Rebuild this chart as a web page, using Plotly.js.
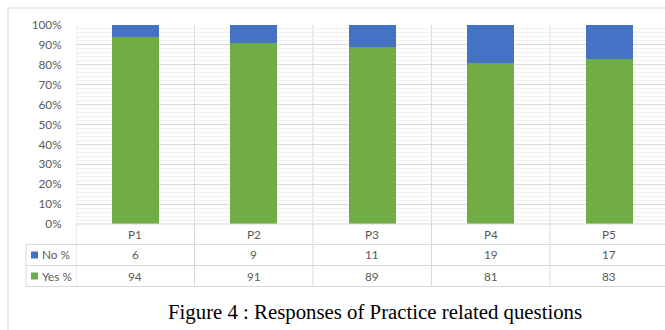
<!DOCTYPE html>
<html>
<head>
<meta charset="utf-8">
<script src="https://cdn.plot.ly/plotly-3.0.1.min.js"></script>
<style>
html,body{margin:0;padding:0;background:#fff;}
#chart{width:665px;height:330px;}
</style>
</head>
<body>
<div id="chart"></div>
<script>
var categories = ["P1", "P2", "P3", "P4", "P5"];
var noPct = [6, 9, 11, 19, 17];
var yesPct = [94, 91, 89, 81, 83];
var seriesNames = ["No %", "Yes %"];
var caption = "Figure 4 : Responses of Practice related questions";

var blue = "#4472C4", green = "#70AD47";
var grid = "#d9d9d9", txt = "#595959";
var FONT = "Lato, 'Open Sans', sans-serif";
var FS = 11.8;

// pixel helpers (plot area: x 76..665, y 25..224)
var L = 76, T = 25, W = 589, H = 199;
function xp(px){ return (px - L) / W; }
function yp(py){ return (T + H - py) / H; }

var traces = [
  {type: "bar", name: seriesNames[1], x: categories, y: yesPct.map(function(v){return v/100;}),
   marker: {color: green, line: {width: 0}}, width: 0.4, hoverinfo: "skip"},
  {type: "bar", name: seriesNames[0], x: categories, y: noPct.map(function(v){return v/100;}),
   marker: {color: blue, line: {width: 0}}, width: 0.4, hoverinfo: "skip"}
];

var rowLines = [244.5, 265.5, 286.5];
var shapes = [];
// outer frame
shapes.push({type: "rect", xref: "paper", yref: "paper", x0: xp(8), x1: xp(700), y0: yp(360), y1: yp(8),
  line: {color: "#d9d9d9", width: 1}, fillcolor: "rgba(0,0,0,0)", layer: "below"});
// table horizontal lines
rowLines.forEach(function(py){
  shapes.push({type: "line", xref: "paper", yref: "paper", x0: xp(26), x1: 1.05, y0: yp(py), y1: yp(py),
    line: {color: grid, width: 1}});
});
// bottom axis line
shapes.push({type: "line", xref: "paper", yref: "paper", x0: 0, x1: 1.05, y0: 0, y1: 0, line: {color: grid, width: 1}});
// left table border
shapes.push({type: "line", xref: "paper", yref: "paper", x0: xp(26), x1: xp(26), y0: yp(rowLines[0]), y1: yp(rowLines[2]),
  line: {color: grid, width: 1}});
// category boundary lines
for (var i = 0; i < categories.length; i++) {
  shapes.push({type: "line", xref: "x", yref: "paper", x0: i - 0.5, x1: i - 0.5, y0: 1, y1: yp(rowLines[2]),
    line: {color: grid, width: 1}, layer: "below"});
}
// legend squares
[[seriesNames[0], blue, 255], [seriesNames[1], green, 276]].forEach(function(r){
  shapes.push({type: "rect", xref: "paper", yref: "paper", x0: xp(31), x1: xp(38), y0: yp(r[2] + 3.5), y1: yp(r[2] - 3.5),
    fillcolor: r[1], line: {width: 0}});
});

var annotations = [];
var rowCenters = [234.5, 255, 276];
categories.forEach(function(c, i){
  annotations.push({xref: "x", yref: "paper", x: c, y: yp(rowCenters[0]), text: c, showarrow: false,
    font: {family: FONT, size: FS, color: txt}, xanchor: "center", yanchor: "middle"});
  annotations.push({xref: "x", yref: "paper", x: c, y: yp(rowCenters[1]), text: String(noPct[i]), showarrow: false,
    font: {family: FONT, size: FS, color: txt}, xanchor: "center", yanchor: "middle"});
  annotations.push({xref: "x", yref: "paper", x: c, y: yp(rowCenters[2]), text: String(yesPct[i]), showarrow: false,
    font: {family: FONT, size: FS, color: txt}, xanchor: "center", yanchor: "middle"});
});
annotations.push({xref: "paper", yref: "paper", x: xp(40), y: yp(rowCenters[1]), text: seriesNames[0], showarrow: false,
  font: {family: FONT, size: FS, color: txt}, xanchor: "left", yanchor: "middle"});
annotations.push({xref: "paper", yref: "paper", x: xp(40), y: yp(rowCenters[2]), text: seriesNames[1], showarrow: false,
  font: {family: FONT, size: FS, color: txt}, xanchor: "left", yanchor: "middle"});
annotations.push({xref: "paper", yref: "paper", x: xp(375), y: yp(312), text: caption, showarrow: false,
  font: {family: "'Liberation Serif', 'Times New Roman', serif", size: 20.8, color: "#000"}, xanchor: "center", yanchor: "middle"});

var layout = {
  width: 665, height: 330,
  margin: {l: L, r: 0, t: T, b: 330 - T - H, pad: 0},
  paper_bgcolor: "#fff", plot_bgcolor: "#fff",
  barmode: "stack",
  showlegend: false,
  xaxis: {type: "category", range: [-0.5, -0.5 + W / 118.5], showgrid: false, showticklabels: false,
    zeroline: false, showline: false, ticks: "", fixedrange: true},
  yaxis: {range: [0, 1], dtick: 0.1, tickformat: ".0%", showgrid: true, gridcolor: grid, gridwidth: 1,
    minor: {dtick: 0.02, showgrid: true, gridcolor: "#f1f1f1", gridwidth: 1},
    zeroline: false, showline: false, ticks: "outside", ticklen: 11, tickcolor: "rgba(0,0,0,0)",
    tickfont: {family: FONT, size: FS, color: txt}, fixedrange: true},
  shapes: shapes,
  annotations: annotations
};

Plotly.newPlot("chart", traces, layout, {staticPlot: true, displayModeBar: false});
</script>
</body>
</html>
